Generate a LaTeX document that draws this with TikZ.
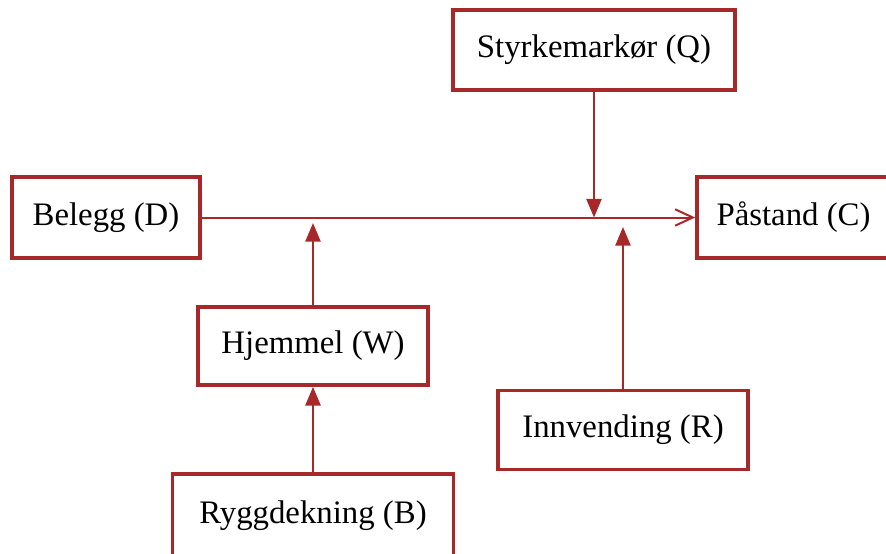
\documentclass[tikz,border=0pt]{standalone}
\usepackage{fontspec}
\setmainfont{Liberation Serif}
\usetikzlibrary{arrows.meta}
\definecolor{boxred}{RGB}{166,40,40}
\tikzset{
  part/.style={draw=boxred,line width=3.2pt,fill=white,inner sep=0pt,
    font=\fontsize{28}{34}\selectfont},
  link/.style={draw=boxred,line width=1.7pt},
  tri/.style={link,-{Triangle[length=16pt,width=13pt]}},
  barb/.style={link,-{Straight Barb[length=15pt,width=14pt,line width=1.7pt]}}
}
\begin{document}
\begin{tikzpicture}[x=0.03cm,y=0.03cm]
\path[use as bounding box,clip] (0,0) rectangle (886,-554);

\node[part,minimum width=188*0.03cm,minimum height=81*0.03cm] (D) at (106,-217.5) {Belegg (D)};
\node[part,minimum width=193*0.03cm,minimum height=81*0.03cm] (C) at (793.5,-217.5) {Påstand (C)};
\node[part,minimum width=282*0.03cm,minimum height=80*0.03cm] (Q) at (594,-50) {Styrkemarkør (Q)};
\node[part,minimum width=230*0.03cm,minimum height=78*0.03cm] (W) at (313,-346) {Hjemmel (W)};
\node[part,minimum width=250*0.03cm,minimum height=79*0.03cm] (R) at (623,-430) {Innvending (R)};
\node[part,minimum width=281*0.03cm,minimum height=84*0.03cm] (B) at (313,-516) {Ryggdekning (B)};

\coordinate (qend) at (594,-217.5);
\coordinate (wend) at (313,-223);
\coordinate (rend) at (623,-227);

\draw[barb] (D) -- (C);
\draw[tri] (Q) -- (qend);
\draw[tri] (W) -- (wend);
\draw[tri] (R) -- (rend);
\draw[tri] (B) -- (W);
\end{tikzpicture}
\end{document}
